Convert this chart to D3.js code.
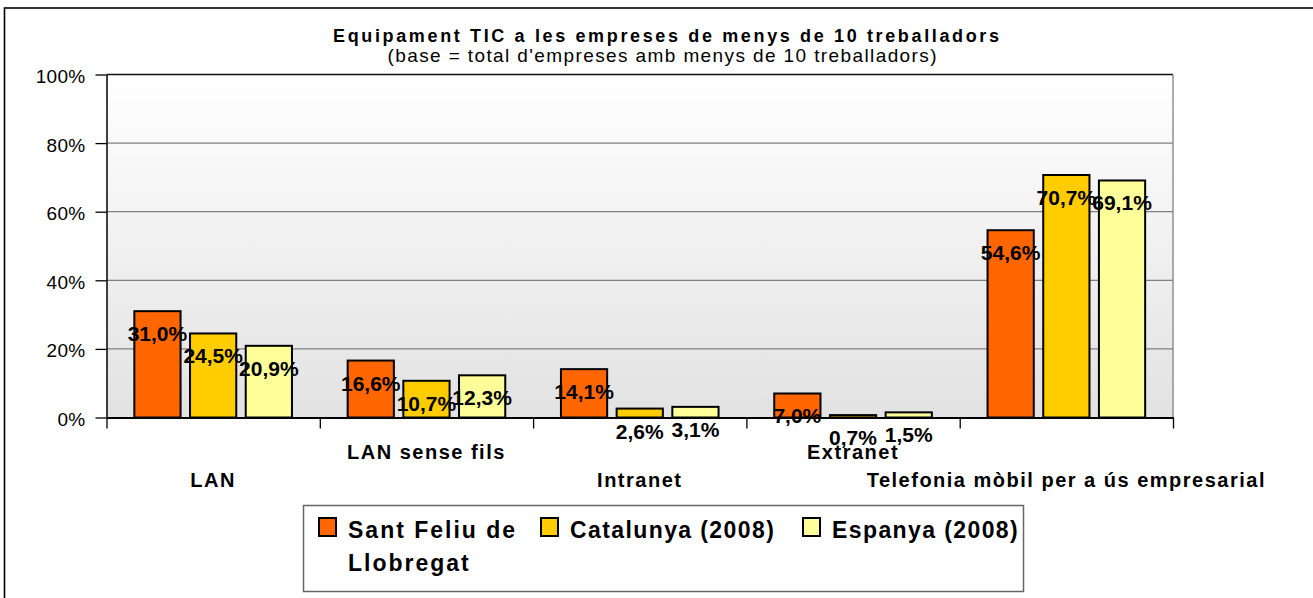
<!DOCTYPE html>
<html>
<head>
<meta charset="utf-8">
<script src="https://cdn.jsdelivr.net/npm/d3@7"></script>
<style>
  body { margin: 0; background: #fff; }
  svg text { font-family: "Liberation Sans", Arial, sans-serif; fill: #000; }
</style>
</head>
<body>
<div id="chart"></div>
<script>
// chart data
const categories = ["LAN", "LAN sense fils", "Intranet", "Extranet", "Telefonia mòbil per a ús empresarial"];
const seriesNames = ["Sant Feliu de Llobregat", "Catalunya (2008)", "Espanya (2008)"];
const santFeliu = [31.0, 16.6, 14.1, 7.0, 54.6];
const catalunya = [24.5, 10.7, 2.6, 0.7, 70.7];
const espanya = [20.9, 12.3, 3.1, 1.5, 69.1];
const yTicks = [0, 20, 40, 60, 80, 100];
const colors = ["#ff6600", "#ffcc00", "#ffff99"];

const width = 1313;
const height = 598;
const margin = {left: 106.5, right: 140, top: 74.5, bottom: 180.5};

const svg = d3.select("#chart")
  .append("svg")
  .attr("width", width)
  .attr("height", height);

// outer frame (right and bottom edges fall outside the picture)
svg.append("rect")
  .attr("x", 4.5).attr("y", 8)
  .attr("width", 1330).attr("height", 620)
  .attr("fill", "none").attr("stroke", "#000").attr("stroke-width", 1.6);

// plot background gradient
const grad = svg.append("defs").append("linearGradient")
  .attr("id", "bg").attr("x1", 0).attr("y1", 0).attr("x2", 0).attr("y2", 1);
grad.append("stop").attr("offset", "0%").attr("stop-color", "#ffffff");
grad.append("stop").attr("offset", "100%").attr("stop-color", "#e2e2e2");

const y = d3.scaleLinear()
  .domain([0, 100])
  .range([height - margin.bottom, margin.top]);

const x0 = d3.scaleBand()
  .domain(categories)
  .range([margin.left, width - margin.right])
  .padding(0);

const x1 = d3.scaleBand()
  .domain(d3.range(seriesNames.length))
  .range([0, x0.bandwidth()])
  .paddingInner(0.17)
  .paddingOuter(0.5);

svg.append("rect")
  .attr("x", margin.left).attr("y", y(100))
  .attr("width", width - margin.right - margin.left)
  .attr("height", y(0) - y(100))
  .attr("fill", "url(#bg)");

// gridlines
svg.append("g")
  .selectAll("line")
  .data(yTicks.filter(d => d > 0))
  .join("line")
    .attr("x1", margin.left).attr("x2", width - margin.right)
    .attr("y1", d => y(d)).attr("y2", d => y(d))
    .attr("stroke", d => d === 100 ? "#111" : "#808080")
    .attr("stroke-width", 1.3);

// right edge of plot
svg.append("line")
  .attr("x1", width - margin.right).attr("x2", width - margin.right)
  .attr("y1", y(100)).attr("y2", y(0))
  .attr("stroke", "#808080").attr("stroke-width", 1.3);

// y axis
const yAxis = svg.append("g")
  .attr("transform", `translate(${margin.left},0)`)
  .call(d3.axisLeft(y)
    .tickValues(yTicks)
    .tickFormat(d => d + "%")
    .tickSize(11)
    .tickSizeOuter(0)
    .tickPadding(10));
yAxis.select(".domain").attr("stroke", "#000").attr("stroke-width", 1.5);
yAxis.selectAll(".tick line").attr("stroke", "#000").attr("stroke-width", 1.3);
yAxis.selectAll(".tick text")
  .attr("font-size", "19px")
  .attr("dy", "0.42em")
  .style("letter-spacing", "0.3px");

// x axis ticks at category boundaries
const xb = d3.scaleLinear()
  .domain([0, categories.length])
  .range([margin.left, width - margin.right]);
const xAxis = svg.append("g")
  .attr("transform", `translate(0,${y(0)})`)
  .call(d3.axisBottom(xb)
    .tickValues(d3.range(categories.length + 1))
    .tickFormat("")
    .tickSize(11)
    .tickSizeOuter(0));
xAxis.select(".domain").attr("stroke", "#000").attr("stroke-width", 2);
xAxis.selectAll(".tick line").attr("stroke", "#000").attr("stroke-width", 1.3);

// bars
const rows = categories.map((c, i) => ({
  cat: c,
  vals: [santFeliu[i], catalunya[i], espanya[i]]
}));

const groups = svg.append("g")
  .selectAll("g")
  .data(rows)
  .join("g")
    .attr("transform", d => `translate(${x0(d.cat)},0)`);

groups.selectAll("rect")
  .data(d => d.vals.map((v, k) => ({v, k})))
  .join("rect")
    .attr("x", d => x1(d.k))
    .attr("y", d => y(d.v))
    .attr("width", x1.bandwidth())
    .attr("height", d => y(0) - y(d.v))
    .attr("fill", d => colors[d.k])
    .attr("stroke", "#000")
    .attr("stroke-width", 2);

// value labels
groups.selectAll("text")
  .data(d => d.vals.map((v, k) => ({v, k})))
  .join("text")
    .attr("x", d => x1(d.k) + x1.bandwidth() / 2)
    .attr("y", d => y(d.v) + 30)
    .attr("text-anchor", "middle")
    .attr("font-size", "21px")
    .attr("font-weight", "bold")
    .text(d => d.v.toFixed(1).replace(".", ",") + "%");

// category labels, staggered
svg.append("g")
  .selectAll("text")
  .data(categories)
  .join("text")
    .attr("x", d => x0(d) + x0.bandwidth() / 2)
    .attr("y", (d, i) => i % 2 === 0 ? 486.5 : 459)
    .attr("text-anchor", "middle")
    .attr("font-size", "20px")
    .attr("font-weight", "bold")
    .style("letter-spacing", "1.5px")
    .text(d => d);

// title
svg.append("text")
  .attr("x", 666).attr("y", 42)
  .attr("text-anchor", "middle")
  .attr("font-size", "18px")
  .attr("font-weight", "bold")
  .attr("textLength", 666)
  .attr("lengthAdjust", "spacing")
  .text("Equipament TIC a les empreses de menys de 10 treballadors");

svg.append("text")
  .attr("x", 662).attr("y", 62)
  .attr("text-anchor", "middle")
  .attr("font-size", "19px")
  .attr("textLength", 549)
  .attr("lengthAdjust", "spacing")
  .text("(base = total d'empreses amb menys de 10 treballadors)");

// legend
const legend = svg.append("g");
legend.append("rect")
  .attr("x", 303.5).attr("y", 505.5)
  .attr("width", 720).attr("height", 86)
  .attr("fill", "#fff").attr("stroke", "#666").attr("stroke-width", 1.5);

const legendX = [319, 541, 803];
const legendLines = [["Sant Feliu de", "Llobregat"], ["Catalunya (2008)"], ["Espanya (2008)"]];

seriesNames.forEach((s, k) => {
  legend.append("rect")
    .attr("x", legendX[k]).attr("y", 518)
    .attr("width", 17).attr("height", 18)
    .attr("fill", colors[k])
    .attr("stroke", "#000").attr("stroke-width", 2);
  const t = legend.append("text")
    .attr("x", legendX[k] + 29).attr("y", 538)
    .attr("font-size", "23px")
    .attr("font-weight", "bold")
    .style("letter-spacing", k === 0 ? "2px" : "1.4px");
  legendLines[k].forEach((ln, j) => {
    t.append("tspan")
      .attr("x", legendX[k] + 29)
      .attr("dy", j === 0 ? 0 : 33)
      .text(ln);
  });
});
</script>
</body>
</html>
